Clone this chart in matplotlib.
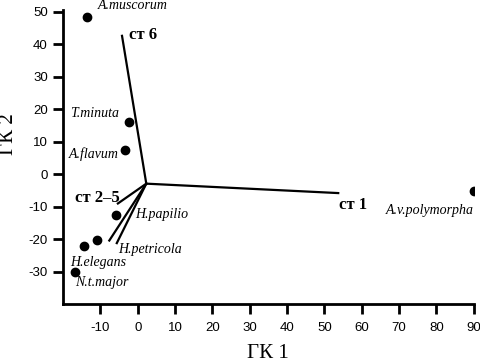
import matplotlib
matplotlib.use("Agg")
import matplotlib.pyplot as plt

plt.rcParams["axes.unicode_minus"] = False

# species scores
species = ["A.muscorum", "T.minuta", "A.flavum", "H.papilio", "H.petricola",
           "H.elegans", "N.t.major", "A.v.polymorpha"]
pc1 = [-13.5, -2.4, -3.3, -5.8, -11.0, -14.3, -16.7, 90.1]
pc2 = [48.3, 16.1, 7.6, -12.4, -20.2, -22.1, -30.2, -5.2]
label_pos = [(-10.8, 52.0), (-5.1, 18.8), (-5.1, 6.2), (-0.8, -12.3),
             (-5.3, -23.1), (-18.0, -27.1), (-16.7, -33.2), (66.4, -11.1)]
label_ha = ["left", "right", "right", "left", "left", "left", "left", "left"]

# station vectors
origin = (2.3, -2.9)
vec_x = [-4.2, 53.7, -5.3, -7.6, -5.6]
vec_y = [42.6, -5.8, -9.0, -20.4, -21.2]
vec_names = ["ст 6", "ст 1", "ст 2–5"]
vec_label_pos = [(-2.2, 42.9), (53.8, -9.6), (-4.8, -7.4)]
vec_label_ha = ["left", "left", "right"]

fig = plt.figure(figsize=(4.81, 3.63), dpi=100)
ax = fig.add_axes([0.131, 0.162, 0.854, 0.81])

for vx, vy in zip(vec_x, vec_y):
    ax.plot([origin[0], vx], [origin[1], vy], color="black", lw=1.6)

ax.scatter(pc1, pc2, s=36, color="black", zorder=3)

for name, (lx, ly), ha in zip(species, label_pos, label_ha):
    ax.text(lx, ly, name, fontsize=10, style="italic", family="Liberation Serif",
            ha=ha, va="center")

for name, (lx, ly), ha in zip(vec_names, vec_label_pos, vec_label_ha):
    ax.text(lx, ly, name, fontsize=12, fontweight="bold", family="Liberation Serif",
            ha=ha, va="center")

ax.set_xlim(-20, 90)
ax.set_ylim(-40, 50.5)
ax.set_xticks(range(-10, 91, 10))
ax.set_yticks(range(-30, 51, 10))
for s in ["top", "right"]:
    ax.spines[s].set_visible(False)
for s in ["left", "bottom"]:
    ax.spines[s].set_linewidth(2)
ax.tick_params(width=2, length=7, labelsize=9.5)
ax.tick_params(axis="x", pad=6)
ax.tick_params(axis="y", pad=4)
for lab in ax.get_xticklabels() + ax.get_yticklabels():
    lab.set_family("Liberation Sans")

fig.text(268 / 481, 1 - 354 / 363, "ГК 1", fontsize=15, family="Liberation Serif",
         ha="center", va="center")
fig.text(9 / 481, 1 - 134 / 363, "ГК 2", fontsize=15, family="Liberation Serif",
         ha="center", va="center", rotation=90)

fig.savefig("out.png", dpi=100)
